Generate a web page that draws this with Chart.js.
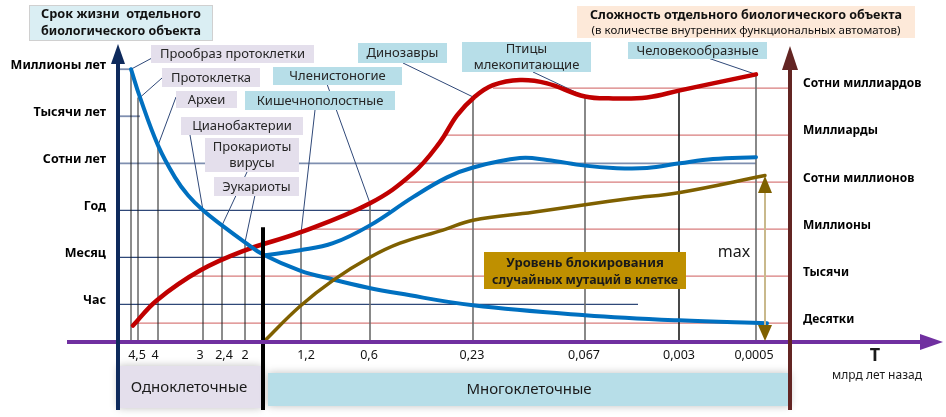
<!DOCTYPE html>
<html lang="ru">
<head>
<meta charset="UTF-8">
<title>Срок жизни и сложность биологического объекта</title>
<script src="https://cdn.jsdelivr.net/npm/chart.js@4"></script>
<style>
    * { margin: 0; padding: 0; box-sizing: border-box; }
    body { background: #fff; width: 946px; height: 417px; overflow: hidden; }
</style>
</head>
<body>
<canvas id="evo-chart" width="946" height="417"></canvas>
<script>
// time axis: position of each tick along the axis and its label (млрд лет назад)
const timeTicks  = [19, 37, 82, 106, 127, 188, 251, 354, 466, 561, 636];
const timeLabels = ['4,5', '4', '3', '2,4', '2', '1,2', '0,6', '0,23', '0,067', '0,003', '0,0005'];

// left axis: lifespan levels
const lifeLevels = [1, 2, 3, 4, 5, 6];
const lifeLabels = ['Час', 'Месяц', 'Год', 'Сотни лет', 'Тысячи лет', 'Миллионы лет'];

// right axis: complexity levels
const complexLevels = [0.6, 1.6, 2.6, 3.6, 4.6, 5.6];
const complexLabels = ['Десятки', 'Тысячи', 'Миллионы', 'Сотни миллионов', 'Миллиарды', 'Сотни миллиардов'];

// lifespan of single-celled line (blue, falling)
const unicellX = [13, 22, 40, 57, 70, 85, 104, 127, 145, 182, 215, 249, 282, 355, 467, 561, 649];
const unicellY = [6.0, 5.4, 4.38, 3.7, 3.32, 3.0, 2.68, 2.32, 2.06, 1.72, 1.53, 1.36, 1.23, 0.98, 0.77, 0.66, 0.6];

// complexity (red)
const complexX = [15, 39, 82, 127, 182, 252, 295, 322, 339, 356, 375, 402, 429, 467, 495, 529, 562, 595, 638];
const complexY = [0.55, 1.09, 1.72, 2.15, 2.53, 3.15, 3.79, 4.45, 5.02, 5.4, 5.66, 5.77, 5.7, 5.42, 5.38, 5.4, 5.55, 5.7, 5.89];

// lifespan of multicellular (blue, rising)
const multiX = [145, 182, 215, 252, 295, 329, 355, 402, 429, 467, 495, 529, 562, 595, 638];
const multiY = [2.04, 2.15, 2.3, 2.68, 3.28, 3.7, 3.91, 4.11, 4.07, 3.95, 3.9, 3.9, 4.0, 4.09, 4.13];

// mutation blocking level (brown)
const blockX = [145, 182, 215, 252, 282, 325, 355, 415, 467, 512, 562, 647];
const blockY = [0.19, 0.96, 1.51, 2.0, 2.3, 2.58, 2.79, 2.96, 3.12, 3.25, 3.38, 3.74];

const FONT = "'Noto Sans', 'DejaVu Sans', sans-serif";

function pts(xs, ys) {
    return xs.map((v, i) => ({ x: v, y: ys[i] }));
}

// how far each grid line reaches
const lifeLineEnd = [520, 145, 272, 638, 22, 13];
const complexLineStart = [15, 75, 189, 282, 325, 375];
const dropLines = [[13, 6.0], [20, 5.4], [40, 4.38], [85, 3.0], [104, 2.68], [127, 2.32],
                   [183, 2.51], [252, 3.15], [355, 5.4], [467, 5.4], [561, 5.55], [638, 5.89]];

// label boxes: text, x, y, w, h, fill, connector start, connector end (data)
const notes = [
    ['Прообраз протоклетки', 151, 45, 163, 18, '#E4DFEC', [152, 58], [13, 6.0]],
    ['Протоклетка', 162, 68, 98, 19, '#E4DFEC', [162, 78], [22, 5.4]],
    ['Археи', 176, 91, 61, 17, '#E4DFEC', [176, 97], [40, 4.38]],
    ['Цианобактерии', 181, 117, 122, 18, '#E4DFEC', [190, 135], [85, 3.0]],
    ['Прокариоты|вирусы', 205, 138, 94, 34, '#E4DFEC', [247, 172], [104, 2.68]],
    ['Эукариоты', 214, 177, 85, 19, '#E4DFEC', [255, 195], [127, 2.32]],
    ['Членистоногие', 273, 67, 129, 18, '#B7DEE8', [327, 84], [252, 3.15]],
    ['Кишечнополостные', 245, 91, 150, 19, '#B7DEE8', [315, 110], [183, 2.51]],
    ['Динозавры', 358, 43, 89, 20, '#B7DEE8', [403, 63], [356, 5.4]],
    ['Птицы|млекопитающие', 462, 42, 129, 30, '#B7DEE8', [533, 72], [467, 5.42]],
    ['Человекообразные', 628, 42, 139, 17, '#B7DEE8', [708, 58], [638, 5.89]]
];

function arrowHead(ctx, x, y, dx, dy, len, half, color) {
    ctx.fillStyle = color;
    ctx.beginPath();
    ctx.moveTo(x, y);
    ctx.lineTo(x - dx * len - dy * half, y - dy * len + dx * half);
    ctx.lineTo(x - dx * len + dy * half, y - dy * len - dx * half);
    ctx.closePath();
    ctx.fill();
}

function textLines(ctx, text, cx, cy, lh, maxW) {
    const lines = text.split('|');
    const y0 = cy - (lines.length - 1) * lh / 2;
    lines.forEach((t, i) => ctx.fillText(t, cx, y0 + i * lh, maxW));
}

const decor = {
    id: 'decor',
    beforeDatasetsDraw(chart) {
        const { ctx, scales: { x, y } } = chart;
        const X = v => x.getPixelForValue(v), Y = v => y.getPixelForValue(v);
        ctx.save();

        // bottom bands
        ctx.shadowColor = 'rgba(0,0,0,0.25)';
        ctx.shadowBlur = 8;
        ctx.fillStyle = '#E4DFEC';
        ctx.fillRect(X(0), 366, X(144) - X(0), 42);
        ctx.fillStyle = '#B7DEE8';
        ctx.fillRect(X(150), 373, X(672) - X(150), 33);
        ctx.shadowBlur = 0;
        ctx.fillStyle = '#1a1a1a';
        ctx.textAlign = 'center';
        ctx.textBaseline = 'middle';
        ctx.font = '15px ' + FONT;
        ctx.fillText('Одноклеточные', 189, 388, 126);
        ctx.fillText('Многоклеточные', 529, 390, 133);

        // lifespan levels (blue lines from left axis)
        lifeLevels.forEach((lv, i) => {
            ctx.strokeStyle = (lv >= 4) ? '#7f8fb0' : '#2f4878';
            ctx.lineWidth = (lv >= 4) ? 1.8 : 1.2;
            ctx.beginPath();
            ctx.moveTo(X(0), Y(lv));
            ctx.lineTo(X(lifeLineEnd[i]), Y(lv));
            ctx.stroke();
        });

        // complexity levels (red lines from right axis)
        ctx.strokeStyle = 'rgba(200,70,70,0.7)';
        ctx.lineWidth = 1.2;
        complexLevels.forEach((lv, i) => {
            ctx.beginPath();
            ctx.moveTo(X(complexLineStart[i]), Y(lv));
            ctx.lineTo(X(672), Y(lv));
            ctx.stroke();
        });

        // vertical drop lines
        dropLines.forEach(([dx, dy]) => {
            ctx.strokeStyle = dx > 240 && dx !== 561 ? '#6b6b6b' : '#1a1a1a';
            ctx.lineWidth = dx > 240 ? 1.6 : 1;
            ctx.beginPath();
            ctx.moveTo(X(dx), Y(dy));
            ctx.lineTo(X(dx), Y(0.2));
            ctx.stroke();
        });

        // connectors
        ctx.strokeStyle = '#2f4878';
        ctx.lineWidth = 1;
        notes.forEach(n => {
            ctx.beginPath();
            ctx.moveTo(n[6][0], n[6][1]);
            ctx.lineTo(X(n[7][0]), Y(n[7][1]));
            ctx.stroke();
        });
        ctx.restore();
    },
    afterDatasetsDraw(chart) {
        const { ctx, scales: { x, y } } = chart;
        const X = v => x.getPixelForValue(v), Y = v => y.getPixelForValue(v);
        ctx.save();

        // boundary between single- and multi-celled
        ctx.strokeStyle = '#000';
        ctx.lineWidth = 4;
        ctx.beginPath();
        ctx.moveTo(X(145), Y(2.64));
        ctx.lineTo(X(145), 410);
        ctx.stroke();

        // time axis
        ctx.strokeStyle = '#7030A0';
        ctx.lineWidth = 4;
        ctx.beginPath();
        ctx.moveTo(67, Y(0.2));
        ctx.lineTo(925, Y(0.2));
        ctx.stroke();
        arrowHead(ctx, 943, Y(0.2), 1, 0, 23, 8, '#7030A0');

        // left axis
        ctx.strokeStyle = '#0e2a5c';
        ctx.lineWidth = 4;
        ctx.beginPath();
        ctx.moveTo(X(0), 410);
        ctx.lineTo(X(0), 60);
        ctx.stroke();
        arrowHead(ctx, X(0), 44, 0, -1, 20, 7, '#0e2a5c');

        // right axis
        ctx.strokeStyle = '#632523';
        ctx.beginPath();
        ctx.moveTo(X(672), 410);
        ctx.lineTo(X(672), 66);
        ctx.stroke();
        arrowHead(ctx, X(672), 46, 0, -1, 24, 8, '#632523');

        // max arrow
        ctx.strokeStyle = '#c9b98c';
        ctx.lineWidth = 2;
        ctx.beginPath();
        ctx.moveTo(X(647), Y(3.6));
        ctx.lineTo(X(647), Y(0.3));
        ctx.stroke();
        arrowHead(ctx, X(647), Y(3.73), 0, -1, 17, 7, '#7F6000');
        arrowHead(ctx, X(647), Y(0.22), 0, 1, 16, 7, '#7F6000');
        ctx.fillStyle = '#1a1a1a';
        ctx.textAlign = 'center';
        ctx.textBaseline = 'middle';
        ctx.font = '16px ' + FONT;
        ctx.fillText('max', 734, 252);

        // label boxes
        ctx.font = '13px ' + FONT;
        notes.forEach(n => {
            ctx.fillStyle = n[5];
            ctx.fillRect(n[1], n[2], n[3], n[4]);
            ctx.fillStyle = '#262626';
            textLines(ctx, n[0], n[1] + n[3] / 2, n[2] + n[4] / 2 + 0.5, 16, n[3] - 10);
        });

        // titles
        ctx.fillStyle = '#DAEEF3';
        ctx.strokeStyle = '#d0d0d0';
        ctx.lineWidth = 1;
        ctx.fillRect(29, 5, 183, 35);
        ctx.strokeRect(29.5, 5.5, 183, 35);
        ctx.fillStyle = '#111';
        ctx.font = 'bold 13px ' + FONT;
        ctx.fillText('Срок жизни  отдельного', 121, 14, 160);
        ctx.fillText('биологического объекта', 121, 31, 160);

        ctx.fillStyle = '#FDE9D9';
        ctx.fillRect(577, 6, 338, 32);
        ctx.fillStyle = '#111';
        ctx.font = 'bold 13px ' + FONT;
        ctx.fillText('Сложность отдельного биологического объекта', 746, 15, 312);
        ctx.font = '11.5px ' + FONT;
        ctx.fillText('(в количестве внутренних функциональных автоматов)', 746, 31, 310);

        // mutation blocking label
        ctx.fillStyle = '#BF9000';
        ctx.fillRect(484, 252, 202, 37);
        ctx.fillStyle = '#1a1a1a';
        ctx.font = 'bold 13px ' + FONT;
        ctx.fillText('Уровень блокирования', 585, 263, 160);
        ctx.fillText('случайных мутаций в клетке', 585, 280, 186);

        // axis name
        ctx.font = 'bold 18px ' + FONT;
        ctx.fillText('T', 875, 356);
        ctx.font = '12px ' + FONT;
        ctx.fillText('млрд лет назад', 877, 376, 98);
        ctx.restore();
    }
};

function curve(data, color, width) {
    return {
        data: data,
        showLine: true,
        borderColor: color,
        borderWidth: width,
        pointRadius: 0,
        tension: 0.4,
        borderCapStyle: 'round',
        borderJoinStyle: 'round',
        clip: false
    };
}

new Chart(document.getElementById('evo-chart'), {
    type: 'scatter',
    data: {
        datasets: [
            curve(pts(blockX, blockY), '#7F6000', 3.5),
            curve(pts(unicellX, unicellY), '#0070C0', 4),
            curve(pts(multiX, multiY), '#0070C0', 4),
            curve(pts(complexX, complexY), '#C00000', 4.5)
        ]
    },
    options: {
        responsive: false,
        animation: false,
        layout: { padding: { top: 41, left: 0, right: 0, bottom: 0 } },
        plugins: { legend: { display: false }, tooltip: { enabled: false } },
        scales: {
            x: {
                type: 'linear',
                min: 0, max: 672,
                grid: { display: false, drawTicks: false },
                border: { display: false },
                afterBuildTicks: s => { s.ticks = timeTicks.map(v => ({ value: v })); },
                afterFit: s => { s.height = 75; },
                ticks: {
                    autoSkip: false, maxRotation: 0, padding: 6,
                    color: '#111', font: { family: FONT, size: 12.5 },
                    callback: (v, i) => timeLabels[i]
                }
            },
            y: {
                position: 'left',
                min: 0.2, max: 6.6,
                grid: { display: false, drawTicks: false },
                border: { display: false },
                afterBuildTicks: s => { s.ticks = lifeLevels.map(v => ({ value: v })); },
                afterFit: s => { s.width = 118; },
                ticks: {
                    padding: 12, labelOffset: -4,
                    color: '#000', font: { family: FONT, size: 12.5, weight: 'bold' },
                    callback: (v, i) => lifeLabels[i]
                }
            },
            y2: {
                position: 'right',
                min: 0.2, max: 6.6,
                grid: { display: false, drawTicks: false },
                border: { display: false },
                afterBuildTicks: s => { s.ticks = complexLevels.map(v => ({ value: v })); },
                afterFit: s => { s.width = 156; },
                ticks: {
                    padding: 13, labelOffset: -4,
                    color: '#000', font: { family: FONT, size: 12, weight: 'bold' },
                    callback: (v, i) => complexLabels[i]
                }
            }
        }
    },
    plugins: [decor]
});
</script>
</body>
</html>
